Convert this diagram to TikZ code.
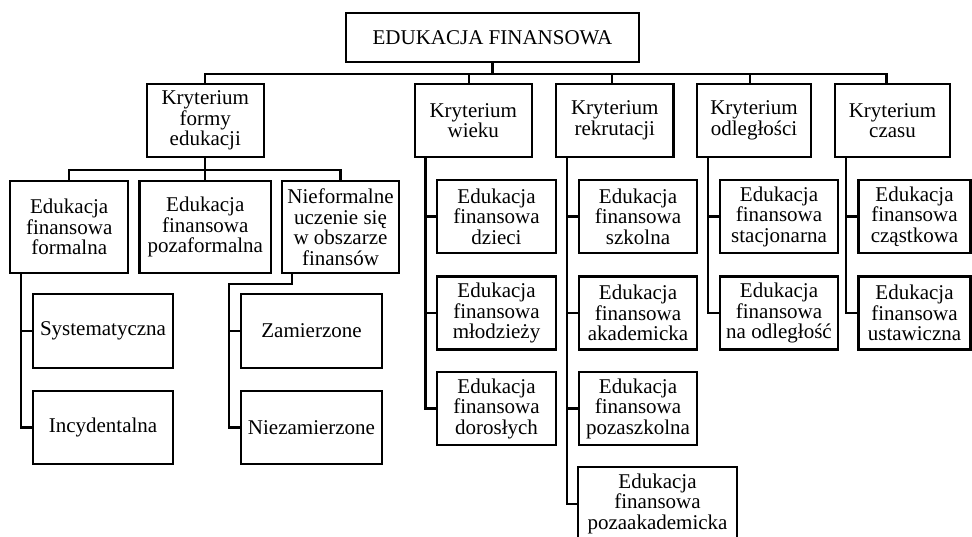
\documentclass[tikz,border=0pt]{standalone}
\usepackage{fontspec}
\setmainfont{Liberation Serif}
\begin{document}
\begin{tikzpicture}[x=1pt, y=-1pt, line width=2.2pt,
    pole/.style={draw, line width=2.2pt, align=center, inner sep=0pt,
        font=\fontsize{21}{20.5}\selectfont},
    kryterium/.style={pole, minimum height=73},
    rodzaj/.style={pole, minimum height=73, minimum width=118.5}]
    % 0. Rozmiar rysunku
    \useasboundingbox (0,0) rectangle (972,536);

    % 1. Korzen i kryteria
    \node[pole, minimum width=293, minimum height=49] (root) at (492.5,37.5) {EDUKACJA FINANSOWA};
    \node[kryterium, minimum width=117] (formy) at (205.3,120.5) {Kryterium\\formy\\edukacji};
    \node[kryterium, minimum width=117.4] (wieku) at (473.3,120.5) {Kryterium\\wieku};
    \node[kryterium, minimum width=117.5] (rekr) at (614.8,120.5) {Kryterium\\rekrutacji};
    \node[kryterium, minimum width=114.5] (odl) at (754,120.5) {Kryterium\\odległości};
    \node[kryterium, minimum width=115] (czasu) at (892.5,120.5) {Kryterium\\czasu};

    % 2. Forma edukacji
    \node[pole, minimum width=118.3, minimum height=92] (formalna) at (69.2,227) {Edukacja\\finansowa\\formalna};
    \node[pole, minimum width=131.7, minimum height=92] (pozaform) at (205.3,227) {Edukacja\\finansowa\\pozaformalna};
    \node[pole, minimum width=117.6, minimum height=92] (nieform) at (340.5,227) {Nieformalne\\uczenie się\\w obszarze\\finansów};
    \node[pole, minimum width=140, minimum height=74] (syst) at (103,331) {Systematyczna};
    \node[pole, minimum width=140, minimum height=73] (incyd) at (103,427.5) {Incydentalna};
    \node[pole, minimum width=141, minimum height=74] (zam) at (311.5,331) {Zamierzone};
    \node[pole, minimum width=141, minimum height=73] (niezam) at (311.5,427.5) {Niezamierzone};

    % 3. Pozostale kryteria
    \node[rodzaj] (dzieci) at (496.5,216.5) {Edukacja\\finansowa\\dzieci};
    \node[rodzaj] (mlodziez) at (496.5,313) {Edukacja\\finansowa\\młodzieży};
    \node[rodzaj] (dorosli) at (496.5,408.5) {Edukacja\\finansowa\\dorosłych};
    \node[rodzaj] (szkolna) at (638,216.5) {Edukacja\\finansowa\\szkolna};
    \node[rodzaj] (akadem) at (638,313) {Edukacja\\finansowa\\akademicka};
    \node[rodzaj] (pozaszk) at (638,408.5) {Edukacja\\finansowa\\pozaszkolna};
    \node[rodzaj, minimum width=158.4] (pozaakad) at (657.5,503.8) {Edukacja\\finansowa\\pozaakademicka};
    \node[rodzaj, minimum width=118] (stacj) at (779,216.5) {Edukacja\\finansowa\\stacjonarna};
    \node[rodzaj, minimum width=118] (odlegl) at (779,313) {Edukacja\\finansowa\\na odległość};
    \node[rodzaj, minimum width=112] (czastk) at (914.5,216.5) {Edukacja\\finansowa\\cząstkowa};
    \node[rodzaj, minimum width=112] (ustaw) at (914.5,313) {Edukacja\\finansowa\\ustawiczna};

    % 4. Polaczenia
    \draw (root.south) -- ++(0,10.7) -| (formy.north);
    \draw (root.south) -- ++(0,10.7) -| ([xshift=-4]wieku.north);
    \draw (root.south) -- ++(0,10.7) -| ([xshift=-3]rekr.north);
    \draw (root.south) -- ++(0,10.7) -| ([xshift=-4]odl.north);
    \draw (root.south) -- ++(0,10.7) -| ([xshift=-6]czasu.north);

    \draw (formy.south) -- ++(0,12) -| (formalna.north);
    \draw (formy.south) -- (pozaform.north);
    \draw (formy.south) -- ++(0,12) -| (nieform.north);

    \draw ([xshift=12]formalna.south west) |- (syst.west);
    \draw ([xshift=12]formalna.south west) |- (incyd.west);
    \draw ([xshift=11]nieform.south west) -- ++(0,10) -| ([xshift=-11]niezam.west) -- (niezam.west);
    \draw ([xshift=-11]zam.west) -- (zam.west);

    \draw ([xshift=12]wieku.south west) |- (dzieci.west);
    \draw ([xshift=12]wieku.south west) |- (mlodziez.west);
    \draw ([xshift=12]wieku.south west) |- (dorosli.west);
    \draw ([xshift=12]rekr.south west) |- (szkolna.west);
    \draw ([xshift=12]rekr.south west) |- (akadem.west);
    \draw ([xshift=12]rekr.south west) |- (pozaszk.west);
    \draw ([xshift=12]rekr.south west) |- (pozaakad.west);
    \draw ([xshift=12]odl.south west) |- (stacj.west);
    \draw ([xshift=12]odl.south west) |- (odlegl.west);
    \draw ([xshift=12]czasu.south west) |- (czastk.west);
    \draw ([xshift=12]czasu.south west) |- (ustaw.west);
\end{tikzpicture}
\end{document}
